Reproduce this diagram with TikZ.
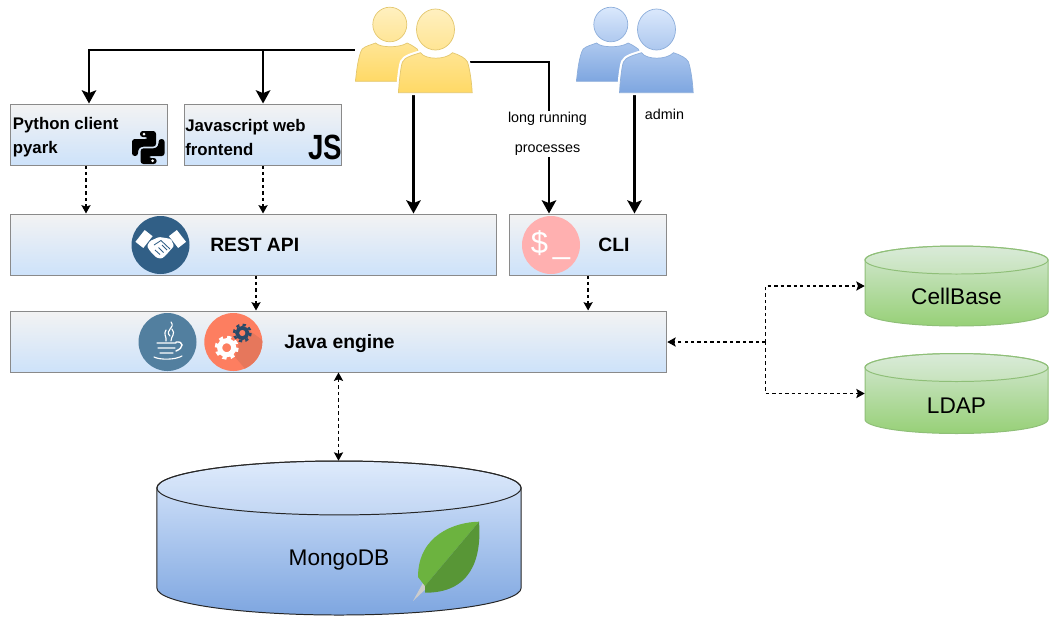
\documentclass[tikz,border=0pt]{standalone}
\usepackage{fontspec}
\setmainfont{Liberation Sans}
\usetikzlibrary{arrows.meta}

\definecolor{yellowtop}{HTML}{FFF0C0}
\definecolor{yellowbot}{HTML}{FFD966}
\definecolor{yellowedge}{HTML}{E3C76E}
\definecolor{bluetop}{HTML}{DAE8FC}
\definecolor{bluebot}{HTML}{7EA6E0}
\definecolor{blueedge}{HTML}{8DAEDB}
\definecolor{boxtop}{HTML}{F3F3F3}
\definecolor{boxbot}{HTML}{CDE2FA}
\definecolor{boxedge}{HTML}{8A8A8A}
\definecolor{greentop}{HTML}{D5E8D4}
\definecolor{greenbot}{HTML}{97D077}
\definecolor{greenedge}{HTML}{8FBF78}
\definecolor{mongotop}{HTML}{DAE8FC}
\definecolor{mongobot}{HTML}{7EA6E0}
\definecolor{mongoedge}{HTML}{262626}
\definecolor{restblue}{HTML}{315F86}
\definecolor{javablue}{HTML}{527F9F}
\definecolor{gearred}{HTML}{FD7E60}
\definecolor{gearshade}{HTML}{E6775C}
\definecolor{gearnavy}{HTML}{2B4A68}
\definecolor{clipink}{HTML}{FFB0B0}
\definecolor{leaflight}{HTML}{6CB33F}
\definecolor{leafdark}{HTML}{589636}

\tikzset{
    user pair/.pic={
        \path [draw=#1edge, top color=#1top, bottom color=#1bot, line width=0.5pt]
            (-23.7,-25.5) ellipse [x radius=17, y radius=17.3]
            (-58,31.3) .. controls (-57,20) and (-55,5) .. (-51.3,-1)
            .. controls (-48,-4) and (-43,-5) .. (-38,-7)
            .. controls (-33,-2) and (-14,-2) .. (-6.3,-7)
            .. controls (-2,-5) and (1,-3) .. (3.7,-1)
            .. controls (7,5) and (9,20) .. (10,31.3) -- cycle;
        \path [preaction={draw=white, line width=3.6pt},
               draw=#1edge, top color=#1top, bottom color=#1bot, line width=0.5pt]
            (22,-20.5) ellipse [x radius=19, y radius=20.5]
            (-15,42.7) .. controls (-14,25) and (-12,14) .. (-11,12)
            .. controls (-9,7) and (0,5) .. (7,2.7)
            .. controls (12,10) and (32,10) .. (39,2.7)
            .. controls (46,5) and (52,8) .. (54,12)
            .. controls (56,18) and (58,30) .. (58.7,42.7) -- cycle;
    },
    db can/.pic={
        \path [draw=#1edge, top color=#1top, bottom color=#1bot, line width=0.7pt]
            (-91.5,-26) -- (-91.5,26)
            arc [start angle=180, end angle=0, x radius=91.5, y radius=14]
            -- (91.5,-26)
            arc [start angle=0, end angle=-180, x radius=91.5, y radius=14] -- cycle;
        \path [draw=#1edge, fill=white, fill opacity=0.12, line width=0.7pt]
            (0,-26) ellipse [x radius=91.5, y radius=14];
    }
}

\begin{document}
\begin{tikzpicture}
                [
                    x=0.025cm,
                    y=-0.025cm,
                    tier box/.style={shape=rectangle, draw=boxedge, line width=0.7pt,
                        top color=boxtop, bottom color=boxbot,
                        minimum width=3.93cm, minimum height=1.525cm, inner sep=0pt},
                    wide tier/.style={tier box, minimum width=#1},
                    client text/.style={anchor=west, inner sep=0pt, align=left,
                        font=\fontsize{11.95}{17.07}\selectfont\bfseries},
                    tier text/.style={font=\fontsize{13.7}{16}\selectfont\bfseries},
                    db/.style={shape=rectangle, inner sep=0pt},
                    db text/.style={font=\fontsize{16.1}{19}\selectfont},
                    small text/.style={font=\fontsize{10.2}{21.3}\selectfont, align=center},
                    user link/.style={draw=black, line width=1.8pt,
                        -{Stealth[length=0.33cm, width=0.36cm, inset=0.07cm]}},
                    dashed link/.style={draw=black, line width=0.85pt,
                        dash pattern=on 2.4pt off 2.2pt},
                    dash tip/.style={-{Stealth[length=0.21cm, width=0.23cm, inset=0.04cm]}},
                    dash tips/.style={{Stealth[length=0.21cm, width=0.23cm, inset=0.04cm]}-{Stealth[length=0.21cm, width=0.23cm, inset=0.04cm]}},
                    icon line/.style={draw=white, line width=0.8pt, line cap=round}
                ]
                \useasboundingbox (0,0) rectangle (1057,621);

                \node (python) [tier box] at (89,134.5) {};
                \node (js) [tier box, right of=python, node distance=4.35cm] {};
                \node (rest) [wide tier=12.16cm] at (253.5,244.5) {};
                \node (cli) [tier box, right of=rest, node distance=8.3625cm] {};
                \node (java) [wide tier=16.41cm] at (338.5,341.5) {};

                \node (mongo) [db, minimum width=9.1cm, minimum height=3.85cm] at (339,538) {};
                \node (cellbase) [db, minimum width=4.575cm, minimum height=2cm] at (956.5,286) {};
                \node (ldap) [db, minimum width=4.575cm, minimum height=2cm] at (956.5,393.5) {};

                \node (users) [minimum width=2.925cm, minimum height=2.15cm, inner sep=0pt]
                    at (413.5,50) {};
                \node (admins) [minimum width=2.925cm, minimum height=2.15cm, inner sep=0pt]
                    at (634.5,50) {};
                \coordinate (users right) at (467,62);
                \coordinate (branch) at (765.5,342);

                % solid links
                \draw [user link] (users.west) -| (python.north);
                \draw [user link] (users.west) -| (js.north);
                \draw [user link] (users.south) -- (users.south |- rest.north);
                \draw [user link] (users right) -| (549,120) -- (cli.north -| 549,0);
                \draw [user link] (admins.south) -- (admins.south |- cli.north);
                \node (long label) [small text, fill=white, inner ysep=1pt, inner xsep=1pt]
                    at (547.5,134) {long running\\processes};
                \node (admin label) [small text] at (664.5,114.7) {admin};

                \pic at (users) {user pair=yellow};
                \pic at (admins) {user pair=blue};

                % databases
                \pic [xscale=1.99, yscale=1.925] at (mongo) {db can=mongo};
                \pic at (cellbase) {db can=green};
                \pic at (ldap) {db can=green};

                % dashed links
                \draw [dashed link, dash tip] ([xshift=-0.075cm]python.south)
                    -- ([xshift=-0.075cm]python.south |- rest.north);
                \draw [dashed link, dash tip] (js.south) -- (js.south |- rest.north);
                \draw [dashed link, dash tip] ([xshift=0.0625cm]rest.south)
                    -- ([xshift=0.0625cm]rest.south |- java.north);
                \draw [dashed link, dash tip] (cli.south) -- (cli.south |- java.north);
                \draw [dashed link, dash tips] (java.south) -- (java.south |- mongo.north);
                \draw [dashed link, dash tip] (branch) -- (java.east |- branch);
                \draw [dashed link, dash tip] (branch) |- (cellbase.west);
                \draw [dashed link, dash tip] (branch) |- (ldap.west);

                \node (mongo text) [db text] at (339,560) {MongoDB};
                \node (cellbase text) [db text] at (956.5,296.5) {CellBase};
                \node (ldap text) [db text] at (956.5,405.5) {LDAP};

                \node (python text) [client text] at (12.6,137.5) {Python client\\pyark};
                \node (js text) [client text] at (185,137.5) {Javascript web\\frontend};
                \node (rest text) [tier text] at (254.7,245) {REST API};
                \node (cli text) [tier text] at (614,245) {CLI};
                \node (java text) [tier text] at (339.5,343.5) {Java engine};

                % python logo
                \path [fill=black, rounded corners=0.07cm]
                    (140,131) -- (156,131) -- (156,146.6) -- (141,146.6) -- (138,149.5)
                    -- (138,156) -- (132,156) -- (132,139) -- (148,139) -- (148,137)
                    -- (140,137) -- cycle;
                \path [fill=black, rounded corners=0.07cm]
                    (156.6,164) -- (140.6,164) -- (140.6,148.4) -- (155.6,148.4) -- (158.6,145.5)
                    -- (158.6,139) -- (164.6,139) -- (164.6,156) -- (148.6,156) -- (148.6,158)
                    -- (156.6,158) -- cycle;
                \path [fill=white] (144,134.2) circle [radius=1.5] (152.6,160.8) circle [radius=1.5];
                \node (js logo) [font=\fontsize{24.9}{28}\selectfont\bfseries, inner sep=0pt, xscale=0.79]
                    at (325,147.5) {JS};

                % handshake
                \path [fill=restblue] (160.5,245) circle [radius=29];
                \path [fill=white, rotate around={-38:(144,239)}] (139,231.5) rectangle (149,246.5);
                \path [fill=white, rotate around={38:(177.5,239)}] (172.5,231.5) rectangle (182.5,246.5);
                \path [fill=white, rounded corners=0.03cm]
                    (150,241) -- (159,237) -- (166,238) -- (171,239) -- (174,246) -- (166,255)
                    -- (162,258.5) -- (157,258) -- (150,251) -- (147,246) -- cycle;
                \draw [draw=restblue, line width=0.6pt]
                    (154,245) -- (161,240.5) -- (170,249)
                    (155,250) -- (160,254.5) (158.5,247.5) -- (163.5,252.5) (162,245) -- (167,250);

                % terminal
                \path [fill=clipink] (551,245) circle [radius=29];
                \node (prompt) [text=white, font=\fontsize{22}{24}\selectfont, inner sep=0pt]
                    at (550.5,245) {\$\hspace{0.15em}\_};

                % coffee cup
                \path [fill=javablue] (167.5,342) circle [radius=29];
                \draw [icon line] (171,322) .. controls (176,328) and (164,330) .. (170,336)
                    (172,329) .. controls (176,334) and (171,336) .. (171,341)
                    (166,330) .. controls (163,334) and (167,337) .. (166,341);
                \draw [icon line, line width=1pt] (157,343) -- (176,343)
                    (158,348) -- (175,348)
                    (160,353) -- (173,353)
                    (176,342) .. controls (184,341) and (184,348) .. (176,351);
                \draw [icon line] (154,357) .. controls (160,360) and (175,360) .. (182,356);

                % gears
                \path [fill=gearred] (233.3,342) circle [radius=29];
                \begin{scope}
                    \clip (233.3,342) circle [radius=29];
                    \path [fill=gearshade] (235,357) -- (248,372) -- (265,372) -- (265,342)
                        -- (250,331) -- (240,340) -- cycle;
                \end{scope}
                \draw [draw=white, line width=2.2pt, dash pattern=on 2.9pt off 2.97pt]
                    (226.7,347.7) circle [radius=10.5];
                \draw [draw=white, line width=3.6pt] (226.7,347.7) circle [radius=7];
                \draw [draw=gearnavy, line width=1.8pt, dash pattern=on 2.3pt off 2.28pt]
                    (242.3,333) circle [radius=8.2];
                \draw [draw=gearnavy, line width=2.6pt] (242.3,333) circle [radius=5.2];

                % leaf
                \path [fill=gray!40] (413,601) -- (424,581) -- (430,585) -- cycle;
                \path [fill=leaflight] (479,521.7) .. controls (455,522) and (418,535) .. (418,577)
                    -- (425,586) -- cycle;
                \path [fill=leafdark] (479,521.7) .. controls (482,560) and (470,593) .. (425,592.7)
                    -- (425,586) -- cycle;
\end{tikzpicture}
\end{document}
